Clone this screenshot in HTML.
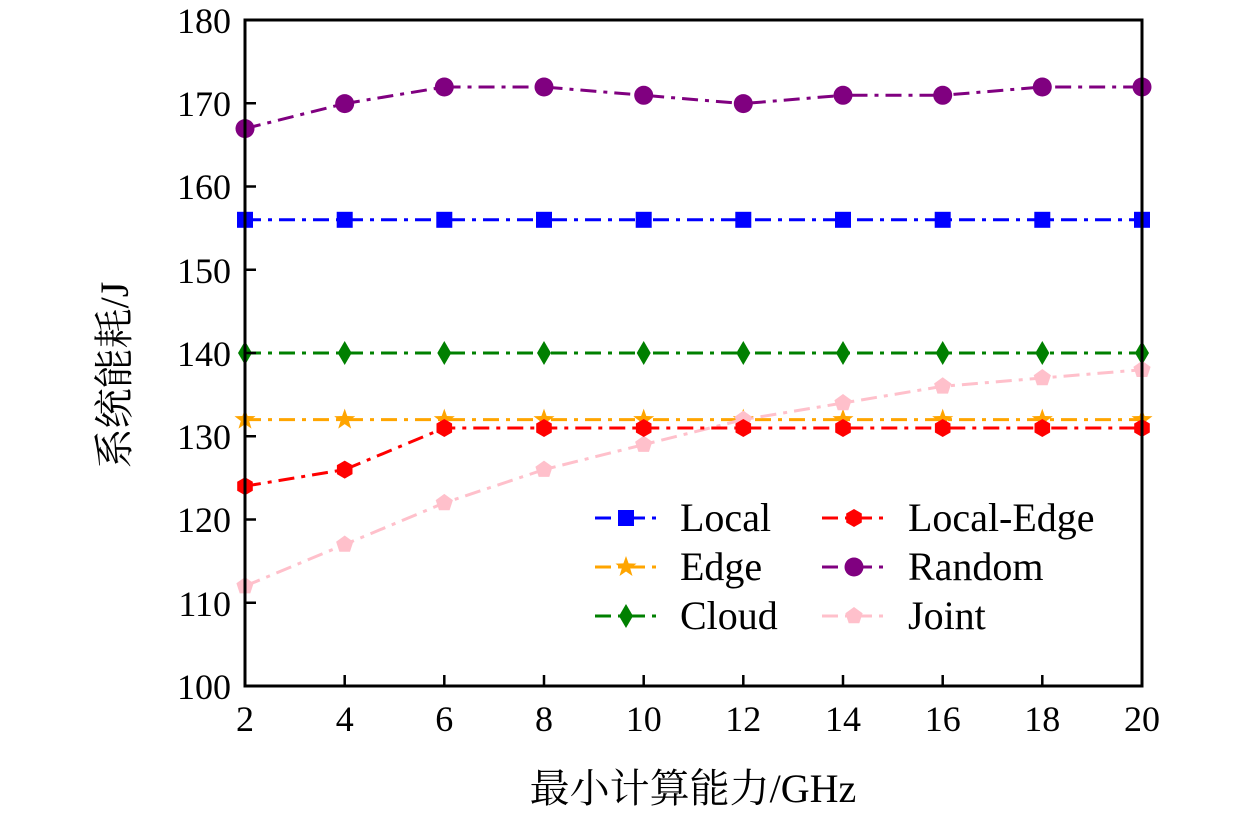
<!DOCTYPE html>
<html><head><meta charset="utf-8"><style>
body{margin:0;background:#fff;width:1260px;height:813px;overflow:hidden}
text{font-family:"Liberation Serif","Noto Serif CJK SC",serif;fill:#000}
</style></head><body>
<svg width="1260" height="813" xmlns="http://www.w3.org/2000/svg">
<defs>
<rect id="sq" x="-8" y="-8" width="16" height="16" fill="#0000ff"/>
<polygon id="st" points="0,-11 2.6,-3.6 10.5,-3.4 4.2,1.4 6.5,9 0,4.5 -6.5,9 -4.2,1.4 -10.5,-3.4 -2.6,-3.6" fill="#ffa500"/>
<polygon id="di" points="0,-12 7,0 0,12 -7,0" fill="#008000"/>
<polygon id="hx" points="0,-9 7.8,-4.5 7.8,4.5 0,9 -7.8,4.5 -7.8,-4.5" fill="#ff0000"/>
<circle id="ci" r="9.5" fill="#800080"/>
<polygon id="pe" points="0,-9 8.6,-2.8 5.3,7.3 -5.3,7.3 -8.6,-2.8" fill="#ffc0cb"/>
</defs>
<g fill="none" stroke-width="3" stroke-dasharray="16 7 4 7">
<polyline stroke="#800080" points="245,128.6 344.7,103.6 444.3,87 544,87 643.7,95.3 743.3,103.6 843,95.3 942.7,95.3 1042.3,87 1142,87"/>
<polyline stroke="#0000ff" points="245,219.8 1142,219.8"/>
<polyline stroke="#008000" points="245,353 1142,353"/>
<polyline stroke="#ffa500" points="245,419.6 1142,419.6"/>
<polyline stroke="#ffc0cb" points="245,586.1 344.7,544.5 444.3,502.9 544,469.6 643.7,444.6 743.3,419.6 843,403 942.7,386.3 1042.3,378 1142,369.7"/>
<polyline stroke="#ff0000" points="245,486.2 344.7,469.6 444.3,428 544,428 643.7,428 743.3,428 843,428 942.7,428 1042.3,428 1142,428"/>
</g>
<g>
<use href="#ci" x="245" y="128.6"/><use href="#ci" x="344.7" y="103.6"/><use href="#ci" x="444.3" y="87"/><use href="#ci" x="544" y="87"/><use href="#ci" x="643.7" y="95.3"/><use href="#ci" x="743.3" y="103.6"/><use href="#ci" x="843" y="95.3"/><use href="#ci" x="942.7" y="95.3"/><use href="#ci" x="1042.3" y="87"/><use href="#ci" x="1142" y="87"/>
<use href="#sq" x="245" y="219.8"/><use href="#sq" x="344.7" y="219.8"/><use href="#sq" x="444.3" y="219.8"/><use href="#sq" x="544" y="219.8"/><use href="#sq" x="643.7" y="219.8"/><use href="#sq" x="743.3" y="219.8"/><use href="#sq" x="843" y="219.8"/><use href="#sq" x="942.7" y="219.8"/><use href="#sq" x="1042.3" y="219.8"/><use href="#sq" x="1142" y="219.8"/>
<use href="#di" x="245" y="353"/><use href="#di" x="344.7" y="353"/><use href="#di" x="444.3" y="353"/><use href="#di" x="544" y="353"/><use href="#di" x="643.7" y="353"/><use href="#di" x="743.3" y="353"/><use href="#di" x="843" y="353"/><use href="#di" x="942.7" y="353"/><use href="#di" x="1042.3" y="353"/><use href="#di" x="1142" y="353"/>
<use href="#st" x="245" y="419.6"/><use href="#st" x="344.7" y="419.6"/><use href="#st" x="444.3" y="419.6"/><use href="#st" x="544" y="419.6"/><use href="#st" x="643.7" y="419.6"/><use href="#st" x="743.3" y="419.6"/><use href="#st" x="843" y="419.6"/><use href="#st" x="942.7" y="419.6"/><use href="#st" x="1042.3" y="419.6"/><use href="#st" x="1142" y="419.6"/>
<use href="#pe" x="245" y="586.1"/><use href="#pe" x="344.7" y="544.5"/><use href="#pe" x="444.3" y="502.9"/><use href="#pe" x="544" y="469.6"/><use href="#pe" x="643.7" y="444.6"/><use href="#pe" x="743.3" y="419.6"/><use href="#pe" x="843" y="403"/><use href="#pe" x="942.7" y="386.3"/><use href="#pe" x="1042.3" y="378"/><use href="#pe" x="1142" y="369.7"/>
<use href="#hx" x="245" y="486.2"/><use href="#hx" x="344.7" y="469.6"/><use href="#hx" x="444.3" y="428"/><use href="#hx" x="544" y="428"/><use href="#hx" x="643.7" y="428"/><use href="#hx" x="743.3" y="428"/><use href="#hx" x="843" y="428"/><use href="#hx" x="942.7" y="428"/><use href="#hx" x="1042.3" y="428"/><use href="#hx" x="1142" y="428"/>
</g>
<rect x="245" y="20" width="897" height="666" fill="none" stroke="#000" stroke-width="3"/>
<g stroke="#000" stroke-width="2.5">
<line x1="245" y1="103.25" x2="256" y2="103.25"/><line x1="245" y1="186.5" x2="256" y2="186.5"/><line x1="245" y1="269.75" x2="256" y2="269.75"/><line x1="245" y1="353" x2="256" y2="353"/><line x1="245" y1="436.25" x2="256" y2="436.25"/><line x1="245" y1="519.5" x2="256" y2="519.5"/><line x1="245" y1="602.75" x2="256" y2="602.75"/>
<line x1="344.7" y1="686" x2="344.7" y2="675"/><line x1="444.3" y1="686" x2="444.3" y2="675"/><line x1="544" y1="686" x2="544" y2="675"/><line x1="643.7" y1="686" x2="643.7" y2="675"/><line x1="743.3" y1="686" x2="743.3" y2="675"/><line x1="843" y1="686" x2="843" y2="675"/><line x1="942.7" y1="686" x2="942.7" y2="675"/><line x1="1042.3" y1="686" x2="1042.3" y2="675"/>
</g>
<g font-size="36" text-anchor="end">
<text x="231" y="33">180</text><text x="231" y="116">170</text><text x="231" y="199">160</text><text x="231" y="283">150</text><text x="231" y="366">140</text><text x="231" y="449">130</text><text x="231" y="532">120</text><text x="231" y="616">110</text><text x="231" y="699">100</text>
</g>
<g font-size="36" text-anchor="middle">
<text x="245" y="731">2</text><text x="344.7" y="731">4</text><text x="444.3" y="731">6</text><text x="544" y="731">8</text><text x="643.7" y="731">10</text><text x="743.3" y="731">12</text><text x="843" y="731">14</text><text x="942.7" y="731">16</text><text x="1042.3" y="731">18</text><text x="1142" y="731">20</text>
</g>
<text x="693" y="802" font-size="40" text-anchor="middle">最小计算能力/GHz</text>
<text transform="translate(128,375) rotate(-90)" font-size="40" text-anchor="middle">系统能耗/J</text>
<g fill="none" stroke-width="3" stroke-dasharray="16 7 4 7">
<line x1="595" y1="518" x2="660" y2="518" stroke="#0000ff"/>
<line x1="595" y1="567" x2="660" y2="567" stroke="#ffa500"/>
<line x1="595" y1="616" x2="660" y2="616" stroke="#008000"/>
<line x1="822" y1="518" x2="887" y2="518" stroke="#ff0000"/>
<line x1="822" y1="567" x2="887" y2="567" stroke="#800080"/>
<line x1="822" y1="616" x2="887" y2="616" stroke="#ffc0cb"/>
</g>
<use href="#sq" x="626" y="518"/><use href="#st" x="626" y="567"/><use href="#di" x="626" y="616"/>
<use href="#hx" x="854" y="518"/><use href="#ci" x="854" y="567"/><use href="#pe" x="854" y="616"/>
<g font-size="40">
<text x="680" y="531">Local</text><text x="680" y="580">Edge</text><text x="680" y="629">Cloud</text>
<text x="908" y="531">Local-Edge</text><text x="908" y="580">Random</text><text x="908" y="629">Joint</text>
</g>
</svg>
</body></html>
